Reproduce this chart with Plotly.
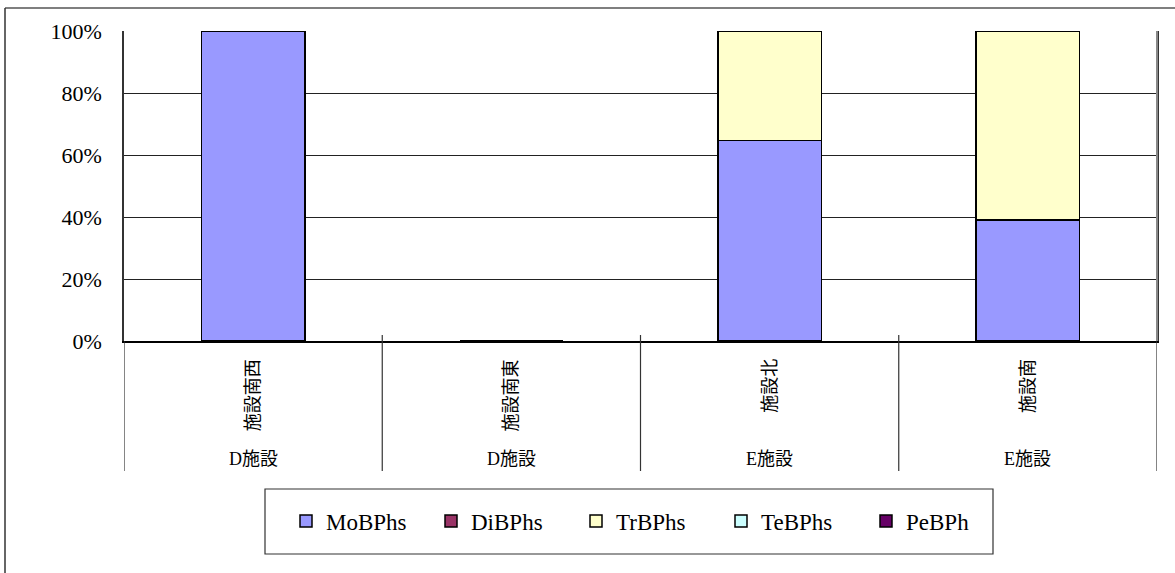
import plotly.graph_objects as go

# Sampling points: facility group and location within the facility
groups = ["D施設", "D施設", "E施設", "E施設"]
locations = ["施設南西", "施設南東", "施設北", "施設南"]

# Composition ratio (%) of each homologue group at every location
series_names = ["MoBPhs", "DiBPhs", "TrBPhs", "TeBPhs", "PeBPh"]
mobphs = [100.0, 0.0, 64.6, 39.0]
dibphs = [0.0, 0.0, 0.0, 0.0]
trbphs = [0.0, 0.0, 35.4, 61.0]
tebphs = [0.0, 0.0, 0.0, 0.0]
pebph = [0.0, 0.0, 0.0, 0.0]

y_ticks = [0, 20, 40, 60, 80, 100]
y_tick_labels = ["0%", "20%", "40%", "60%", "80%", "100%"]

colors = ["#9999FF", "#993366", "#FFFFCC", "#CCFFFF", "#660066"]
values = [mobphs, dibphs, trbphs, tebphs, pebph]

W, H = 1175, 573
L, R, T, B = 124, 1157, 31, 341  # plot area in pixels


def px_x(px):
    return (px - L) / (R - L)


def px_y(px):
    return (B - px) / (B - T)


SERIF = "'Liberation Serif', 'Noto Sans CJK JP', serif"

fig = go.Figure()
x_idx = list(range(len(locations)))
for name, vals, col in zip(series_names, values, colors):
    fig.add_trace(go.Bar(
        x=x_idx, y=vals, name=name, width=0.4,
        marker=dict(color=col, line=dict(color="#000000", width=1.5)),
    ))

shapes = []
# outer chart frame (top and left edges)
shapes.append(dict(type="line", xref="paper", yref="paper",
                   x0=px_x(5), x1=px_x(1180), y0=px_y(8), y1=px_y(8),
                   line=dict(color="#555555", width=1.5)))
shapes.append(dict(type="line", xref="paper", yref="paper",
                   x0=px_x(5), x1=px_x(5), y0=px_y(8), y1=px_y(580),
                   line=dict(color="#333333", width=1.5)))
# category separators in the axis label area
for i in range(len(locations) + 1):
    xb = i - 0.5
    top = B if i in (0, len(locations)) else B - 6
    shapes.append(dict(type="line", xref="x", yref="paper",
                       x0=xb, x1=xb, y0=px_y(top), y1=px_y(471),
                       line=dict(color="#333333", width=1.2)))
# legend frame
shapes.append(dict(type="rect", xref="paper", yref="paper",
                   x0=px_x(265), x1=px_x(993), y0=px_y(489), y1=px_y(554),
                   line=dict(color="#333333", width=1.2), fillcolor="rgba(0,0,0,0)"))

annotations = []
for i, (g, loc) in enumerate(zip(groups, locations)):
    annotations.append(dict(x=i, y=px_y(357), xref="x", yref="paper",
                            text=loc, textangle=-90, showarrow=False,
                            xanchor="center", yanchor="top",
                            font=dict(family=SERIF, size=18, color="#000000")))
    annotations.append(dict(x=i, y=px_y(459), xref="x", yref="paper",
                            text=g, showarrow=False,
                            xanchor="center", yanchor="middle",
                            font=dict(family=SERIF, size=18, color="#000000")))

fig.update_layout(
    width=W, height=H,
    margin=dict(l=L, r=W - R, t=T, b=H - B, pad=0),
    barmode="stack",
    paper_bgcolor="#FFFFFF",
    plot_bgcolor="#FFFFFF",
    showlegend=True,
    legend=dict(orientation="h", x=px_x(286), y=px_y(521), xanchor="left",
                yanchor="middle", traceorder="normal",
                font=dict(family=SERIF, size=23, color="#000000"),
                entrywidth=100, entrywidthmode="pixels",
                borderwidth=0, bgcolor="rgba(0,0,0,0)"),
    xaxis=dict(range=[-0.5, 3.5], showticklabels=False, ticks="",
               showgrid=False, zeroline=False, showline=True,
               linecolor="#000000", linewidth=2, mirror=False, fixedrange=True),
    yaxis=dict(range=[0, 100], tickvals=y_ticks, ticktext=y_tick_labels,
               tickfont=dict(family=SERIF, size=22, color="#000000"),
               ticks="", ticklabelstandoff=16,
               showgrid=True, gridcolor="#222222", gridwidth=1,
               zeroline=False, showline=True, linecolor="#333333",
               linewidth=1.5, mirror=True, fixedrange=True),
    shapes=shapes,
    annotations=annotations,
)
# right edge of plot area
fig.add_shape(type="line", xref="paper", yref="paper", x0=1, x1=1, y0=0, y1=1,
              line=dict(color="#888888", width=2))

fig.write_html("out.html")
